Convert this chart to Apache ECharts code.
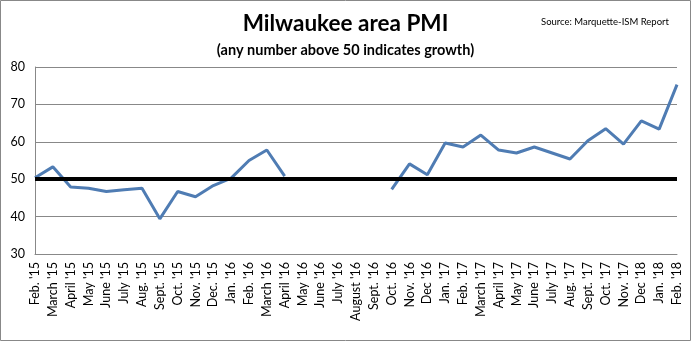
<!DOCTYPE html>
<html><head><meta charset="utf-8">
<script src="https://cdn.jsdelivr.net/npm/echarts@6/dist/echarts.min.js"></script>
<style>html,body{margin:0;padding:0;background:#fff}#c{width:691px;height:341px}</style>
</head><body><div id="c"></div>
<script>
const categories = ["Feb. '15","March '15","April '15","May '15","June '15","July '15","Aug. '15","Sept. '15","Oct. '15","Nov. '15","Dec. '15","Jan. '16","Feb. '16","March '16","April '16","May '16","June '16","July '16","August '16","Sept. '16","Oct. '16","Nov. '16","Dec '16","Jan. '17","Feb. '17","March '17","April '17","May '17","June '17","July '17","Aug. '17","Sept. '17","Oct. '17","Nov. '17","Dec '18","Jan. '18","Feb. '18"];
const pmi = [50.4,53.3,47.9,47.6,46.7,47.2,47.6,39.4,46.7,45.3,48.3,50.3,55.0,57.8,50.8,null,null,null,null,null,47.3,54.1,51.2,59.7,58.6,61.8,57.8,57.0,58.6,57.0,55.4,60.3,63.5,59.4,65.6,63.4,75.3];
const threshold = 50;
const yTicks = {min:30, max:80, interval:10};
const font = "Lato, 'Open Sans', sans-serif";
const chart = echarts.init(document.getElementById('c'));
chart.setOption({
  animation:false,
  backgroundColor:'#fff',
  title:[
    {text:'Milwaukee area PMI', left:'center', top:7, textStyle:{fontFamily:font, fontSize:22.5, fontWeight:'bold', color:'#000'}},
    {text:'(any number above 50 indicates growth)', left:'center', top:38, textStyle:{fontFamily:font, fontSize:14.5, fontWeight:'bold', color:'#000'}},
    {text:'Source: Marquette-ISM Report', left:536, top:12, textStyle:{fontFamily:font, fontSize:9.5, fontWeight:'normal', color:'#000'}}
  ],
  graphic:[{type:'rect', shape:{x:0.5,y:0.5,width:690,height:340}, style:{fill:null, stroke:'#888', lineWidth:1}, silent:true}],
  grid:{left:35, right:14, top:67, bottom:87},
  xAxis:{type:'category', data:categories, boundaryGap:false,
    axisLine:{show:true, lineStyle:{color:'#888'}}, axisTick:{show:false},
    axisLabel:{interval:0, rotate:90, fontFamily:font, fontSize:12.5, color:'#000', margin:8}},
  yAxis:{type:'value', min:yTicks.min, max:yTicks.max, interval:yTicks.interval,
    axisLine:{show:true, lineStyle:{color:'#888'}}, axisTick:{show:false},
    splitLine:{lineStyle:{color:'#888', width:1}},
    axisLabel:{fontFamily:font, fontSize:12.5, color:'#000', margin:10}},
  series:[{type:'line', data:pmi, connectNulls:false, symbol:'none',
    lineStyle:{color:'#4F7CB3', width:3},
    markLine:{silent:true, symbol:'none', label:{show:false},
      lineStyle:{color:'#000', width:4, type:'solid'}, data:[{yAxis:threshold}]}}]
});
</script></body></html>
